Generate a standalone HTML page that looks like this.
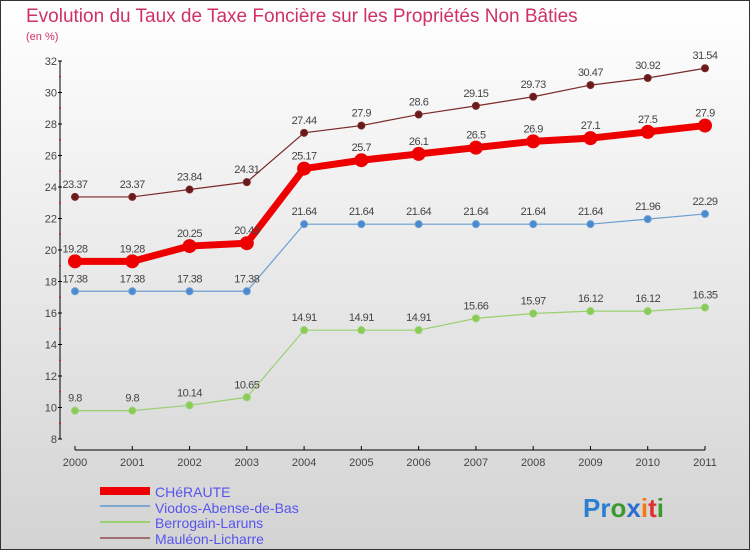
<!DOCTYPE html>
<html><head><meta charset="utf-8"><style>
body{margin:0;width:750px;height:550px;overflow:hidden;font-family:"Liberation Sans",sans-serif}
svg text{font-family:"Liberation Sans",sans-serif}
</style></head><body>
<svg id="c" width="750" height="550">
<defs><linearGradient id="bg" x1="0" y1="0" x2="0" y2="1"><stop offset="0" stop-color="#ffffff"/><stop offset="1" stop-color="#d3d3d3"/></linearGradient></defs>
<rect x="0.5" y="0.5" width="749" height="549" fill="url(#bg)" stroke="#333"/>
<text x="26" y="22" font-size="19" fill="#d0306a">Evolution du Taux de Taxe Foncière sur les Propriétés Non Bâties</text>
<text x="26" y="40" font-size="11" fill="#d0306a">(en %)</text>
<g id="axes"></g><g id="series"></g>
<g>
<rect x="100" y="487" width="50" height="8" fill="#e00"/>
<text x="155" y="497" font-size="14" fill="#5555ee">CHéRAUTE</text>
<line x1="100" y1="506" x2="150" y2="506" stroke="#7aa8d0" stroke-width="2"/>
<text x="155" y="513" font-size="14" fill="#5555ee">Viodos-Abense-de-Bas</text>
<line x1="100" y1="522" x2="150" y2="522" stroke="#99d070" stroke-width="2"/>
<text x="155" y="528" font-size="14" fill="#5555ee">Berrogain-Laruns</text>
<line x1="100" y1="538" x2="150" y2="538" stroke="#a07070" stroke-width="2"/>
<text x="155" y="544" font-size="14" fill="#5555ee">Mauléon-Licharre</text>
</g>
<text x="583" y="517" font-size="26" font-weight="bold"><tspan fill="#2a7fd0">Pr</tspan><tspan fill="#3a9a30">o</tspan><tspan fill="#2a6fd0">x</tspan><tspan fill="#f07a10">i</tspan><tspan fill="#e03030">t</tspan><tspan fill="#3a9a30">i</tspan></text>
</svg>
<script>
const years=["2000","2001","2002","2003","2004","2005","2006","2007","2008","2009","2010","2011"];
const yTicks=[8,10,12,14,16,18,20,22,24,26,28,30,32];
const cheraute=[19.28,19.28,20.25,20.43,25.17,25.7,26.1,26.5,26.9,27.1,27.5,27.9];
const viodos=[17.38,17.38,17.38,17.38,21.64,21.64,21.64,21.64,21.64,21.64,21.96,22.29];
const berrogain=[9.8,9.8,10.14,10.65,14.91,14.91,14.91,15.66,15.97,16.12,16.12,16.35];
const mauleon=[23.37,23.37,23.84,24.31,27.44,27.9,28.6,29.15,29.73,30.47,30.92,31.54];
const NS="http://www.w3.org/2000/svg";
const X=i=>75+i*(630/(years.length-1));
const Y=v=>439-(v-8)*(378/24);
function mk(t,a,p){const e=document.createElementNS(NS,t);for(const k in a)e.setAttribute(k,a[k]);p.appendChild(e);return e;}
const ax=document.getElementById('axes');
let e=mk('line',{x1:60,y1:Y(32),x2:60,y2:Y(8),stroke:'#000'},ax);

e=mk('line',{x1:75,y1:450,x2:705,y2:450,stroke:'#000'},ax);

yTicks.forEach((v,i)=>{
 mk('line',{x1:58,y1:Y(v),x2:62,y2:Y(v),stroke:'#000'},ax);
 if(i<yTicks.length-1)mk('line',{x1:59,y1:Y(v+1),x2:61,y2:Y(v+1),stroke:'#e00'},ax);
 const t=mk('text',{x:57,y:Y(v)+4,'font-size':11,fill:'#444','text-anchor':'end'},ax);t.textContent=v;
 
});
years.forEach((y,i)=>{
 mk('line',{x1:X(i),y1:446,x2:X(i),y2:450,stroke:'#000'},ax);
 const t=mk('text',{x:X(i),y:466,'font-size':11,fill:'#444','text-anchor':'middle'},ax);t.textContent=y;
 
});
const sg=document.getElementById('series');
function draw(data,name,color,w,r,dot){
 const g=mk('g',{},sg);
 
 const l=mk('polyline',{points:data.map((v,i)=>X(i)+','+Y(v)).join(' '),fill:'none',stroke:color,'stroke-width':w},g);
 
 data.forEach((v,i)=>{
  const c=mk('circle',{cx:X(i),cy:Y(v),r:r,fill:dot,stroke:color,'stroke-width':1},g);
  
  const t=mk('text',{x:X(i),y:Y(v)-9,'font-size':11,fill:'#444','text-anchor':'middle','letter-spacing':'-0.5'},g);t.textContent=v;
  
 });
}
draw(mauleon,'mauleon','#7a2a2a',1.2,3.5,'#6a1a1a');
draw(berrogain,'berrogain','#99d070',1.2,3.5,'#88cc55');
draw(viodos,'viodos','#6a9ed0',1.2,3.5,'#4a8ad0');
draw(cheraute,'cheraute','#ee0000',7,6.5,'#ee0000');
</script>
</body></html>
